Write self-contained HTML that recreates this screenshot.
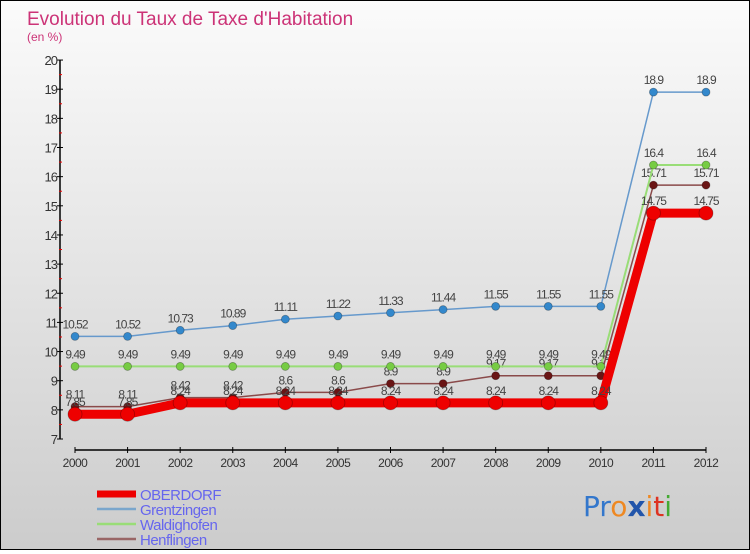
<!DOCTYPE html>
<html><head><meta charset="utf-8"><style>
html,body{margin:0;padding:0}
body{width:750px;height:550px;overflow:hidden;font-family:"Liberation Sans",sans-serif}
#wrap{position:relative;width:748px;height:548px;border:1px solid #000;background:linear-gradient(#fbfbfb,#cccccc)}
</style></head><body>
<div id="wrap">
<svg id="chart" width="748" height="548" xmlns="http://www.w3.org/2000/svg">
<text x="26" y="24" font-size="19" fill="#cc3377">Evolution du Taux de Taxe d'Habitation</text>
<text x="26" y="40" font-size="12" fill="#cc3377">(en %)</text>
<g id="axes"></g><g id="series"></g><g id="legend"></g>
<text x="582" y="515" font-size="28" font-family="'DejaVu Sans',sans-serif"><tspan fill="#3377cc">Pr</tspan><tspan fill="#ee8822">o</tspan><tspan fill="#2255aa" font-weight="bold">x</tspan><tspan fill="#ee8822">i</tspan><tspan fill="#dd3322">t</tspan><tspan fill="#44aa33">i</tspan></text>
</svg></div>
<script>
const years=["2000","2001","2002","2003","2004","2005","2006","2007","2008","2009","2010","2011","2012"];
const yTicks=[7,8,9,10,11,12,13,14,15,16,17,18,19,20];
const seriesNames=["OBERDORF","Grentzingen","Waldighofen","Henflingen"];
const oberdorf=[7.85,7.85,8.24,8.24,8.24,8.24,8.24,8.24,8.24,8.24,8.24,14.75,14.75];
const grentzingen=[10.52,10.52,10.73,10.89,11.11,11.22,11.33,11.44,11.55,11.55,11.55,18.9,18.9];
const waldighofen=[9.49,9.49,9.49,9.49,9.49,9.49,9.49,9.49,9.49,9.49,9.49,16.4,16.4];
const henflingen=[8.11,8.11,8.42,8.42,8.6,8.6,8.9,8.9,9.17,9.17,9.17,15.71,15.71];
const NS="http://www.w3.org/2000/svg";
function X(i){return 74+i*(631/(years.length-1));}
function Y(v){return 438-(v-7)*29.15;}
function mk(t,a,p){const e=document.createElementNS(NS,t);for(const k in a)e.setAttribute(k,a[k]);p.appendChild(e);return e;}
const ax=document.getElementById('axes');
let l=mk('line',{x1:59,y1:Y(20),x2:59,y2:Y(7),stroke:'#000','stroke-width':1.5},ax);


l=mk('line',{x1:X(0),y1:449,x2:X(12),y2:449,stroke:'#000','stroke-width':1.5},ax);


yTicks.forEach(v=>{
  mk('line',{x1:56,y1:Y(v),x2:62,y2:Y(v),stroke:'#000'},ax);
  if(v<20)mk('line',{x1:58,y1:Y(v+0.5),x2:61,y2:Y(v+0.5),stroke:'#e00'},ax);
  const t=mk('text',{x:56,y:Y(v)+5,'font-size':13,'text-anchor':'end',fill:'#333','letter-spacing':'-1'},ax);t.textContent=v;
  
  
});
years.forEach((y,i)=>{
  mk('line',{x1:X(i),y1:446,x2:X(i),y2:452,stroke:'#000'},ax);
  const t=mk('text',{x:X(i),y:466,'font-size':12,'text-anchor':'middle',fill:'#333','letter-spacing':'-0.5'},ax);t.textContent=y;
  
  
});
const sg=document.getElementById('series');
const defs=[
 {d:henflingen,c:'#8a4a4a',dot:'#6a1515',w:1.5,r:4,name:'henflingen'},
 {d:waldighofen,c:'#99dd77',dot:'#77cc44',w:2,r:4,name:'waldighofen'},
 {d:grentzingen,c:'#6699cc',dot:'#3388cc',w:1.5,r:4,name:'grentzingen'},
 {d:oberdorf,c:'#ee0000',dot:'#ee0000',w:9,r:7,name:'oberdorf'}];
defs.forEach(s=>{
  const p=mk('polyline',{points:s.d.map((v,i)=>X(i)+','+Y(v)).join(' '),fill:'none',stroke:s.c,'stroke-width':s.w},sg);
  
  
  s.d.forEach((v,i)=>{
    const c=mk('circle',{cx:X(i),cy:Y(v),r:s.r,fill:s.dot,stroke:'rgba(0,0,0,0.3)','stroke-width':0.8},sg);
    
    
    const t=mk('text',{x:X(i),y:Y(v)-8,'font-size':12,'text-anchor':'middle',fill:'#444','letter-spacing':'-1'},sg);t.textContent=v;
    
    
  });
});
const lg=document.getElementById('legend');
const lc=['#ee0000','#7aa6cc','#99dd77','#996666'],lw=[7,2.5,2.5,2.5];
seriesNames.forEach((n,i)=>{
  const y=493+i*15;
  const g=mk('g',{},lg);
  
  
  mk('line',{x1:96,y1:y,x2:135,y2:y,stroke:lc[i],'stroke-width':lw[i]},g);
  const t=mk('text',{x:139,y:y+6,'font-size':15,fill:'#6666ee','letter-spacing':'-0.5'},g);t.textContent=n;
});
</script>
</body></html>
